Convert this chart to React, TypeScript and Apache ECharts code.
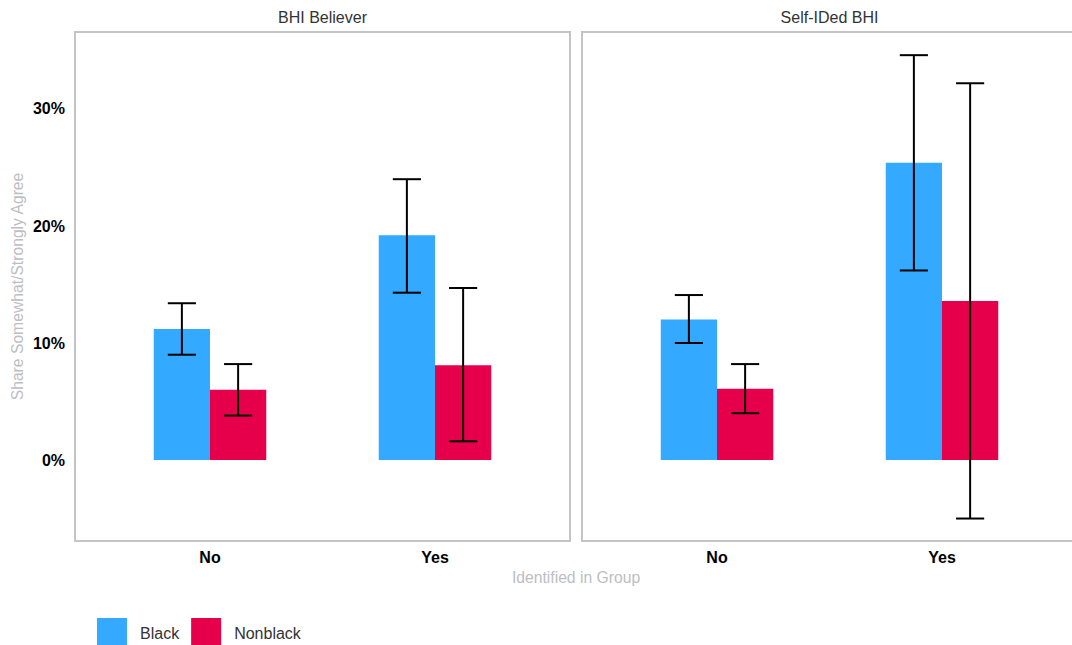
import React, { useEffect, useRef } from "react";
import * as echarts from "echarts";

const categories = ["No", "Yes"];
const panels = ["BHI Believer", "Self-IDed BHI"];
const groups = ["Black", "Nonblack"];
const groupColors = ["#33A9FF", "#E6004C"];

// values per panel: [No, Yes]
const blackValues = [[11.2, 19.2], [12.0, 25.4]];
const blackLow = [[9.0, 14.3], [10.0, 16.2]];
const blackHigh = [[13.4, 24.0], [14.1, 34.6]];
const nonblackValues = [[6.0, 8.1], [6.1, 13.6]];
const nonblackLow = [[3.8, 1.6], [4.0, -5.0]];
const nonblackHigh = [[8.2, 14.7], [8.2, 32.2]];

const yTicks = [0, 10, 20, 30];

const FONT = "'Liberation Sans', Arial, sans-serif";

export default function App() {
  const ref = useRef<HTMLDivElement>(null);
  useEffect(() => {
    if (!ref.current) return;
    const chart = echarts.init(ref.current, null, { renderer: "svg" });
    const vals = [blackValues, nonblackValues];
    const lows = [blackLow, nonblackLow];
    const highs = [blackHigh, nonblackHigh];
    const offsets = [-0.125, 0.125];

    const series: any[] = [];
    panels.forEach((_, p) => {
      groups.forEach((g, gi) => {
        series.push({
          type: "custom",
          name: g,
          xAxisIndex: p,
          yAxisIndex: p,
          itemStyle: { color: groupColors[gi] },
          data: categories.map((_, ci) => [ci + 1 + offsets[gi], vals[gi][p][ci]]),
          renderItem: (params: any, api: any) => {
            const x = api.value(0);
            const v = api.value(1);
            const a = api.coord([x - 0.125, v]);
            const b = api.coord([x + 0.125, 0]);
            return {
              type: "rect",
              shape: { x: a[0], y: Math.min(a[1], b[1]), width: b[0] - a[0], height: Math.abs(b[1] - a[1]) },
              style: { fill: groupColors[gi] },
            };
          },
        });
      });
    });
    panels.forEach((_, p) => {
      groups.forEach((g, gi) => {
        series.push({
          type: "custom",
          name: g + " error",
          xAxisIndex: p,
          yAxisIndex: p,
          z: 5,
          data: categories.map((_, ci) => [ci + 1 + offsets[gi], lows[gi][p][ci], highs[gi][p][ci]]),
          renderItem: (params: any, api: any) => {
            const x = api.value(0);
            const lo = api.value(1);
            const hi = api.value(2);
            const top = api.coord([x, hi]);
            const bot = api.coord([x, lo]);
            const l = api.coord([x - 0.0625, hi])[0];
            const r = api.coord([x + 0.0625, hi])[0];
            const st = { stroke: "#000", lineWidth: 2, fill: null };
            return {
              type: "group",
              children: [
                { type: "line", shape: { x1: top[0], y1: top[1], x2: bot[0], y2: bot[1] }, style: st },
                { type: "line", shape: { x1: l, y1: top[1], x2: r, y2: top[1] }, style: st },
                { type: "line", shape: { x1: l, y1: bot[1], x2: r, y2: bot[1] }, style: st },
              ],
            };
          },
        });
      });
    });

    const gridLefts = [75, 582];
    chart.setOption({
      animation: false,
      backgroundColor: "#fff",
      textStyle: { fontFamily: FONT },
      title: [
        ...panels.map((t, p) => ({
          text: t,
          left: gridLefts[p] + 247.5,
          top: 9,
          padding: 0,
          textAlign: "center",
          textStyle: { fontSize: 16, fontWeight: "normal", color: "#333", fontFamily: FONT },
        })),
        {
          text: "Identified in Group",
          left: 576,
          top: 569,
          padding: 0,
          textAlign: "center",
          textStyle: { fontSize: 15.7, fontWeight: "normal", color: "#BDBDC2", fontFamily: FONT },
        },
      ],
      legend: {
        data: groups,
        left: 97,
        top: 618,
        padding: 0,
        itemWidth: 30,
        itemHeight: 30,
        itemGap: 12,
        icon: "rect",
        textStyle: { fontSize: 16, color: "#333", fontFamily: FONT, padding: [0, 0, 0, 8] },
      },
      grid: gridLefts.map((l) => ({
        left: l,
        top: 32,
        width: 495,
        height: 509,
        show: true,
        borderColor: "#C4C4C8",
        borderWidth: 2,
        backgroundColor: "transparent",
        outerBoundsMode: "none",
        containLabel: false,
      })),
      xAxis: gridLefts.map((_, p) => ({
        type: "value",
        gridIndex: p,
        min: 0.4,
        max: 2.6,
        axisLine: { show: false },
        axisTick: { show: false },
        splitLine: { show: false },
        axisLabel: {
          customValues: [1, 2],
          formatter: (v: number) => categories[Math.round(v) - 1] ?? "",
          fontSize: 16,
          fontWeight: "bold",
          color: "#000",
          margin: 8,
          fontFamily: FONT,
        },
      })),
      yAxis: gridLefts.map((_, p) => ({
        type: "value",
        gridIndex: p,
        min: -6.92,
        max: 36.58,
        axisLine: { show: false },
        axisTick: { show: false },
        splitLine: { show: false },
        name: p === 0 ? "Share Somewhat/Strongly Agree" : "",
        nameLocation: "middle",
        nameGap: 50,
        nameTextStyle: { fontSize: 15.7, color: "#BDBDC2", fontFamily: FONT },
        axisLabel: {
          show: p === 0,
          customValues: yTicks,
          formatter: (v: number) => `${Math.round(v)}%`,
          fontSize: 16,
          fontWeight: "bold",
          color: "#000",
          margin: 10,
          fontFamily: FONT,
        },
      })),
      series,
    });
    return () => chart.dispose();
  }, []);
  return <div ref={ref} style={{ position: "fixed", left: 0, top: 0, width: 1084, height: 645 }} />;
}
